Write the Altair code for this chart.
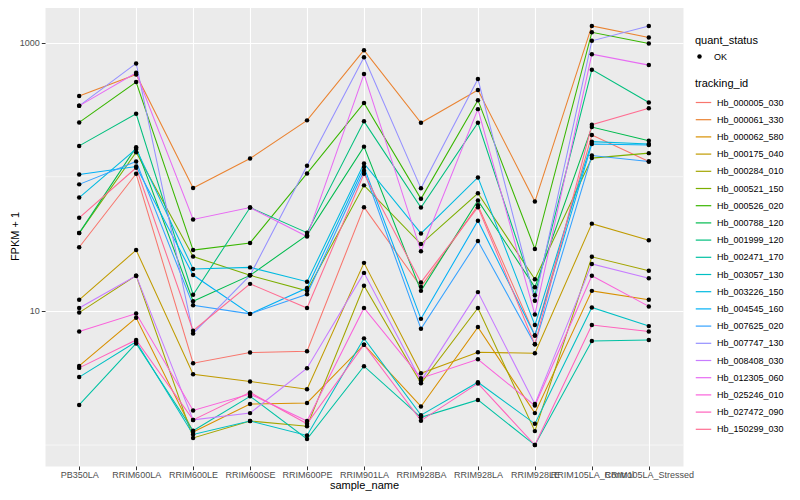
import altair as alt
import pandas as pd

samples = ["PB350LA", "RRIM600LA", "RRIM600LE", "RRIM600SE", "RRIM600PE", "RRIM901LA",
           "RRIM928BA", "RRIM928LA", "RRIM928LE", "RRIM105LA_Control", "RRIM105LA_Stressed"]

tracking_ids = ["Hb_000005_030", "Hb_000061_330", "Hb_000062_580", "Hb_000175_040", "Hb_000284_010",
                "Hb_000521_150", "Hb_000526_020", "Hb_000788_120", "Hb_001999_120", "Hb_002471_170",
                "Hb_003057_130", "Hb_003226_150", "Hb_004545_160", "Hb_007625_020", "Hb_007747_130",
                "Hb_008408_030", "Hb_012305_060", "Hb_025246_010", "Hb_027472_090", "Hb_150299_030"]

palette = ["#F8766D", "#EA8331", "#D89000", "#C09B00", "#A3A500", "#7CAE00", "#39B600", "#00BB4E",
           "#00BF7D", "#00C1A3", "#00BFC4", "#00BAE0", "#00B0F6", "#35A2FF", "#9590FF", "#C77CFF",
           "#E76BF3", "#FA62DB", "#FF62BC", "#FF6C91"]

# FPKM + 1 values, one per sample
Hb_000005_030 = [29.8, 105.2, 4.07, 4.89, 5.0, 59.3, 15.1, 61.3, 6.56, 204.8, 129.8]
Hb_000061_330 = [400, 579, 82.4, 136.7, 263, 877, 252.5, 443, 65.3, 1330, 1089]
Hb_000062_580 = [3.89, 8.88, 1.25, 2.02, 2.06, 5.60, 1.94, 7.57, 1.73, 14.1, 12.1]
Hb_000175_040 = [12.1, 28.4, 3.37, 2.98, 2.61, 22.8, 3.43, 4.91, 4.83, 44.7, 33.6]
Hb_000284_010 = [9.71, 18.3, 1.13, 1.51, 1.38, 15.4, 2.89, 10.5, 1.27, 25.3, 19.9]
Hb_000521_150 = [38.0, 152.4, 25.4, 18.4, 14.1, 86.2, 31.5, 75.2, 17.2, 137.6, 149.9]
Hb_000526_020 = [254, 508, 28.4, 32.1, 105.8, 355, 68.4, 372, 28.9, 1192, 984]
Hb_000788_120 = [38.0, 166, 11.8, 18.4, 36.7, 167.6, 14.1, 66.4, 15.0, 234.6, 185.7]
Hb_001999_120 = [169.7, 294.4, 13.2, 58.9, 38.3, 258.6, 58.9, 252.5, 13.1, 628, 357.5]
Hb_002471_170 = [1.99, 5.72, 1.28, 2.31, 1.11, 3.87, 1.61, 2.17, 1.0, 5.96, 6.07]
Hb_003057_130 = [3.21, 5.89, 1.20, 1.51, 1.18, 6.24, 1.67, 2.94, 1.44, 10.6, 7.70]
Hb_003226_150 = [69.9, 161.2, 20.5, 21.1, 16.5, 125.5, 37.8, 98.8, 7.84, 182.6, 175.5]
Hb_004545_160 = [104, 119.2, 18.5, 9.50, 14.8, 118, 8.72, 47.0, 6.56, 175.5, 172.6]
Hb_007625_020 = [87.7, 129.8, 11.0, 9.50, 13.3, 110.8, 7.35, 33.2, 5.63, 143.8, 129.8]
Hb_007747_130 = [337.5, 699, 6.79, 18.4, 120.6, 778, 81.9, 535, 11.9, 1030, 1330]
Hb_008408_030 = [10.5, 18.3, 1.54, 1.73, 3.74, 19.2, 3.01, 13.8, 2.02, 22.4, 17.5]
Hb_012305_060 = [337.5, 596, 48.0, 58.9, 35.8, 582, 27.8, 319, 9.39, 819, 679]
Hb_025246_010 = [7.03, 9.55, 1.81, 2.40, 1.51, 10.5, 3.15, 4.36, 1.97, 18.3, 10.8]
Hb_027472_090 = [3.76, 6.07, 1.54, 2.47, 1.44, 5.60, 1.52, 2.88, 1.0, 7.84, 7.03]
Hb_150299_030 = [49.4, 116.6, 7.11, 15.9, 10.5, 105.2, 16.3, 59.3, 5.63, 244, 324]

series_values = [Hb_000005_030, Hb_000061_330, Hb_000062_580, Hb_000175_040, Hb_000284_010,
                 Hb_000521_150, Hb_000526_020, Hb_000788_120, Hb_001999_120, Hb_002471_170,
                 Hb_003057_130, Hb_003226_150, Hb_004545_160, Hb_007625_020, Hb_007747_130,
                 Hb_008408_030, Hb_012305_060, Hb_025246_010, Hb_027472_090, Hb_150299_030]

major_breaks = [10, 1000]
minor_breaks = [1, 100]
y_domain = [0.698, 1905]

rows = []
for i, (tid, vals) in enumerate(zip(tracking_ids, series_values)):
    for s, v in zip(samples, vals):
        rows.append({"sample_name": s, "tracking_id": tid, "fpkm1": v,
                     "quant_status": "OK", "order": i})
df = pd.DataFrame(rows)
grid_df = pd.DataFrame({"fpkm1": minor_breaks})

FONT = "Liberation Sans"

y_enc = alt.Y("fpkm1:Q", title="FPKM + 1",
              scale=alt.Scale(type="log", domain=y_domain, nice=False),
              axis=alt.Axis(values=major_breaks, format="d", grid=True, gridColor="white",
                            gridWidth=1.1, domain=False, tickColor="#333333", tickSize=3.7,
                            tickWidth=1, labelColor="#4D4D4D", labelFontSize=9, labelPadding=2,
                            labelFont=FONT, titleFont=FONT, titleFontSize=11,
                            titleFontWeight="normal", titleColor="black",
                            titleX=-25, titleY=231, titleAngle=270, titleBaseline="bottom",
                            titleAlign="center"))

x_enc = alt.X("sample_name:N", sort=samples, title="sample_name",
              scale=alt.Scale(padding=0.6),
              axis=alt.Axis(labelAngle=0, labelOverlap=False, grid=True, gridColor="white",
                            gridWidth=1.1, domain=False, tickColor="#333333", tickSize=3.7,
                            labelColor="#4D4D4D", labelFontSize=9, labelPadding=1, labelFont=FONT,
                            titleFont=FONT, titleFontSize=11, titleFontWeight="normal",
                            titleColor="black", titleY=19.5, titleBaseline="middle"))

minor = alt.Chart(grid_df).mark_rule(color="white", strokeWidth=0.55).encode(y=y_enc)

lines = alt.Chart(df).mark_line(strokeWidth=1.05).encode(
    x=x_enc,
    y=y_enc,
    color=alt.Color("tracking_id:N", title="tracking_id",
                    scale=alt.Scale(domain=tracking_ids, range=palette),
                    legend=alt.Legend(orient="none", legendX=650, legendY=73,
                                      symbolType="stroke", symbolSize=240, symbolStrokeWidth=1.2,
                                      labelFontSize=9, labelFont=FONT, labelColor="black",
                                      titleFontSize=11, titleFont=FONT, titleFontWeight="normal",
                                      titleColor="black", rowPadding=3.2, titlePadding=5,
                                      labelOffset=5)),
    detail="tracking_id:N",
    order="order:Q",
)

points = alt.Chart(df).mark_point(filled=True, color="black", size=20, opacity=1).encode(
    x=x_enc,
    y=y_enc,
    shape=alt.Shape("quant_status:N", title="quant_status",
                    scale=alt.Scale(range=["circle"]),
                    legend=alt.Legend(orient="none", legendX=650, legendY=30,
                                      symbolSize=20, symbolFillColor="black",
                                      symbolStrokeColor="black",
                                      labelFontSize=9, labelFont=FONT, labelColor="black",
                                      titleFontSize=11, titleFont=FONT, titleFontWeight="normal",
                                      titleColor="black", titlePadding=6, labelOffset=10)),
)

chart = alt.layer(minor, lines, points).properties(
    width=638, height=461,
    padding={"left": 37, "top": -3, "right": 109, "bottom": 26},
    autosize=alt.AutoSizeParams(type="none"),
    background="white",
).configure_view(fill="#EBEBEB", strokeOpacity=0)

chart.save("out.html", embed_options={"renderer": "svg", "actions": False})
